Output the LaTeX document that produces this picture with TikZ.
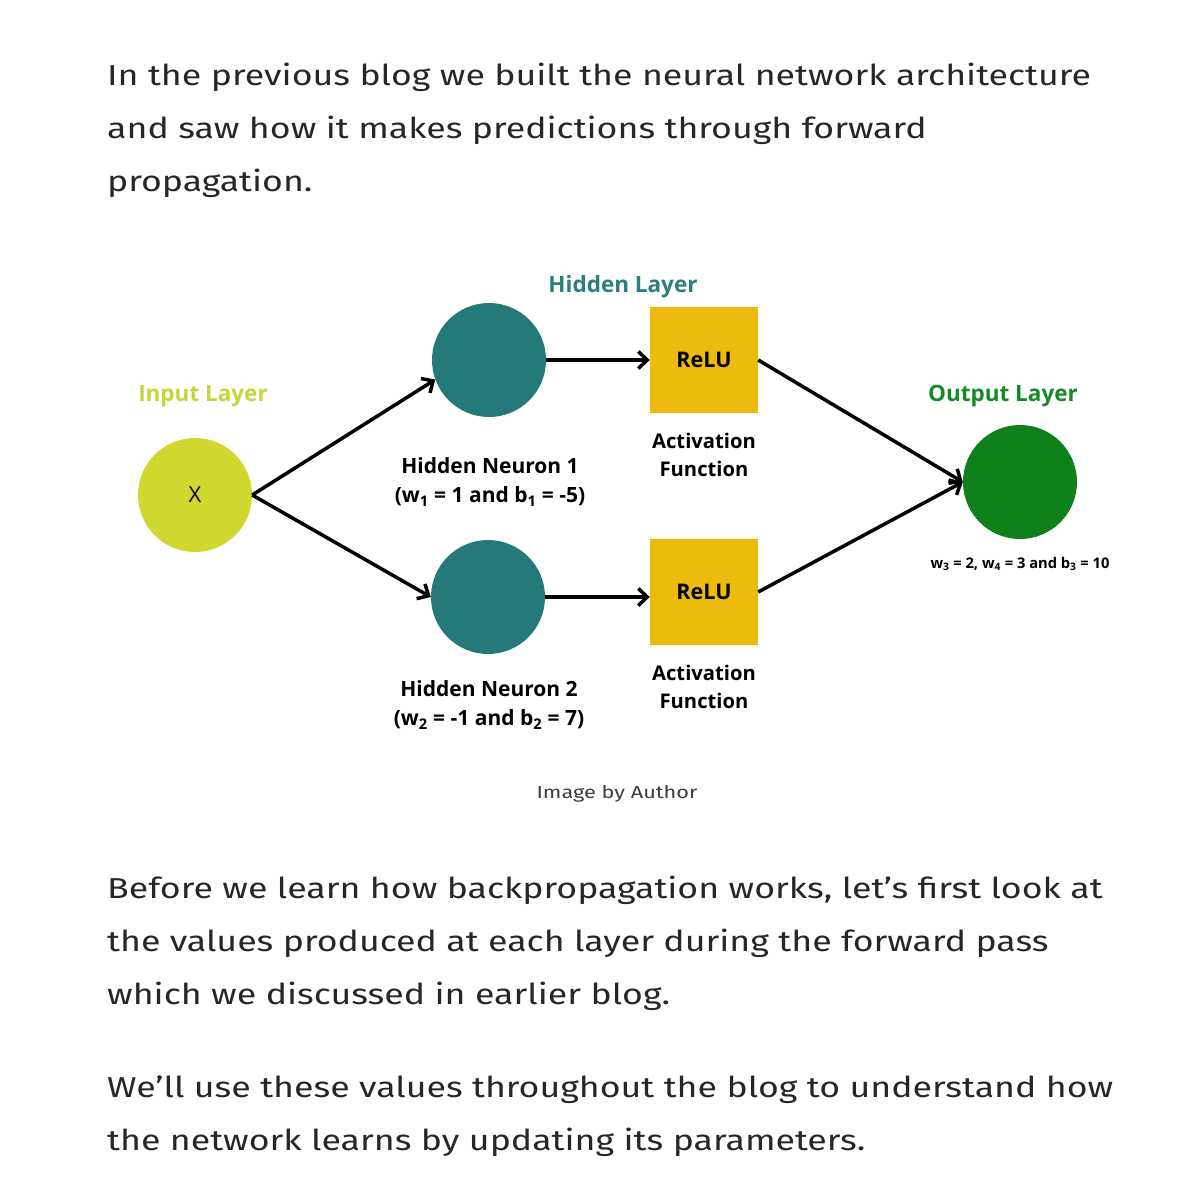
\documentclass[tikz,border=0pt]{standalone}
\usepackage{fontspec}
\setmainfont{Fira Sans}
\newfontfamily\bodyfont[FakeStretch=1.24]{Fira Sans}
\newfontfamily\diagfont{Open Sans}
\usetikzlibrary{arrows.meta,positioning}

\definecolor{inputlime}{HTML}{CFD82F}
\definecolor{inputtext}{HTML}{C6D43C}
\definecolor{hiddenteal}{HTML}{26797A}
\definecolor{hiddentext}{HTML}{2B7F7C}
\definecolor{relugold}{HTML}{EDBB0D}
\definecolor{outgreen}{HTML}{0F801A}
\definecolor{outtext}{HTML}{168A26}
\definecolor{bodytext}{HTML}{262626}
\definecolor{captext}{HTML}{3C3C3C}

\begin{document}
\begin{tikzpicture}[x=1pt, y=-1pt,
  neuron/.style={circle, minimum size=114pt, inner sep=0pt},
  relubox/.style={fill=relugold, minimum width=108pt, minimum height=106pt, inner sep=0pt, font=\diagfont\bfseries\fontsize{21.5}{26}\selectfont},
  layer/.style={font=\diagfont\bfseries\fontsize{22.5}{27}\selectfont},
  lbl/.style={align=center, font=\diagfont\bfseries\fontsize{21}{29}\selectfont},
  actlbl/.style={align=center, font=\diagfont\bfseries\fontsize{20.2}{28}\selectfont},
  arrow/.style={-{Straight Barb[length=9pt, width=17pt, line width=3.5pt]}, line width=3.5pt},
  para/.style={anchor=base west, align=left, inner sep=0pt, text=bodytext, font=\bodyfont\fontsize{28.8}{53}\selectfont},
]
\useasboundingbox (0,0) rectangle (1190,1200);

% text above (anchored at last baseline)
\node[para] (p1) at (107,191) {In the previous blog we built the neural network architecture\\
and saw how it makes predictions through forward\\
propagation.};

% network
\node[neuron, fill=inputlime, font=\diagfont\fontsize{22}{26}\selectfont] (in) at (195,495) {X};
\node[neuron, fill=hiddenteal] (h1) at (489,360) {};
\node[neuron, fill=hiddenteal] (h2) at (488,597) {};
\node[relubox] (r1) at (704,360) {ReLU};
\node[relubox] (r2) at (704,592) {ReLU};
\node[neuron, fill=outgreen] (out) at (1020,482) {};

\node[layer, text=inputtext] (inlab) at (203,396) {Input Layer};
\node[layer, text=hiddentext] (hidlab) at (623,287) {Hidden Layer};
\node[layer, text=outtext] (outlab) at (1003,396) {Output Layer};

\node[lbl] (h1lab) at (490,482) {Hidden Neuron 1\\(w\textsubscript{1} = 1 and b\textsubscript{1} = -5)};
\node[lbl] (h2lab) at (489,705) {Hidden Neuron 2\\(w\textsubscript{2} = -1 and b\textsubscript{2} = 7)};
\node[actlbl, below=16pt of r1] (a1lab) {Activation\\Function};
\node[actlbl, below=16pt of r2] (a2lab) {Activation\\Function};
\node[font=\diagfont\bfseries\fontsize{14.7}{18}\selectfont] (outpar) at (1020,564) {w\textsubscript{3} = 2, w\textsubscript{4} = 3 and b\textsubscript{3} = 10};

\draw[arrow] (in.east) -- (h1.200);
\draw[arrow] (in.east) -- (h2.west);
\draw[arrow] (h1) -- (r1);
\draw[arrow] (h2.east) -- (h2.east -| r2.west);
\draw[arrow] (r1.east) -- (out.west);
\draw[arrow] (r2.east) -- (out.west);

\node[text=captext, font=\bodyfont\fontsize{17.5}{22}\selectfont] (cap) at (617,794) {Image by Author};

% text below
\node[para] (p2) at (107,1004) {Before we learn how backpropagation works, let’s first look at\\
the values produced at each layer during the forward pass\\
which we discussed in earlier blog.};
\node[para] (p3) at (107,1150) {We’ll use these values throughout the blog to understand how\\
the network learns by updating its parameters.};
\end{tikzpicture}
\end{document}
